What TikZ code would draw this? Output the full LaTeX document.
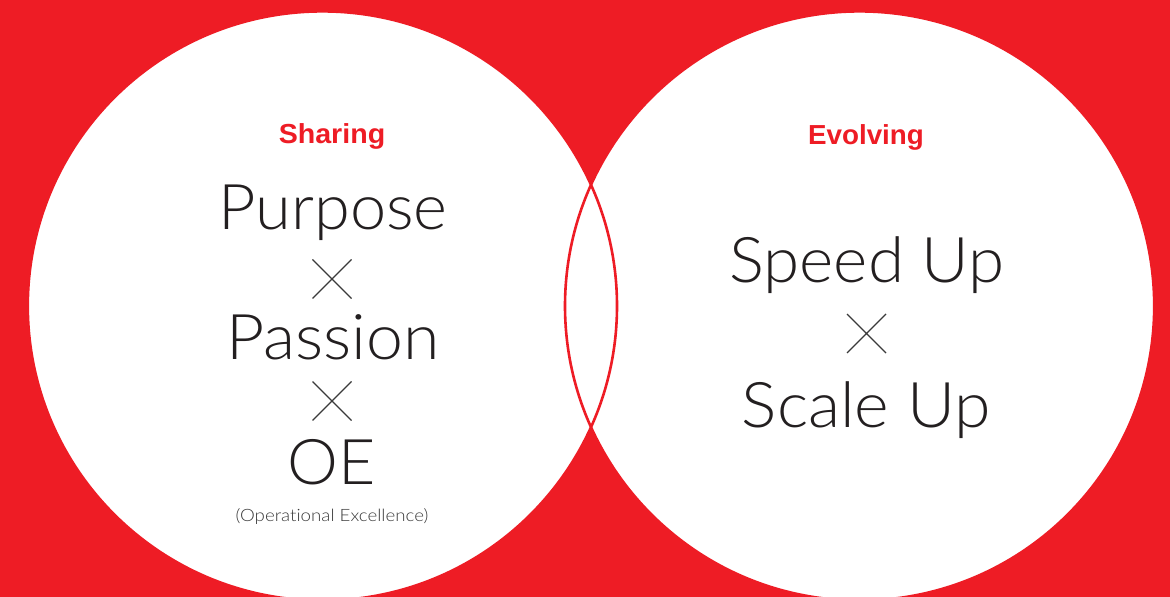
\documentclass[tikz,border=0pt]{standalone}
\usepackage{fontspec}
\usetikzlibrary{calc}
\setmainfont{Liberation Sans}
\newfontfamily\lightfont[Ligatures=NoCommon]{Lato Light}
\newfontfamily\boldfont{Liberation Sans Bold}
\definecolor{bgred}{HTML}{EE1C25}
\definecolor{ink}{HTML}{231F20}
\definecolor{softink}{HTML}{3A3A3A}
\newcommand{\widen}[2]{\scalebox{#1}[1]{#2}}
\begin{document}
\begin{tikzpicture}[x=1pt,y=1pt,
  big/.style={anchor=base,inner sep=0pt,text=ink,font=\lightfont\fontsize{63}{63}\selectfont},
  head/.style={anchor=base,inner sep=0pt,text=bgred,font=\boldfont\fontsize{27.5}{27.5}\selectfont},
  small/.style={anchor=base,inner sep=0pt,text=softink,font=\lightfont\fontsize{17}{17}\selectfont},
  times/.style={draw=softink,line width=1.1pt},
  lens/.style={draw=bgred,line width=2.6pt}]
\useasboundingbox (0,0) rectangle (1170,597);
\fill[bgred] (0,0) rectangle (1170,597);
% circles
\fill[white] (322.4,291) circle[radius=294.6];
\fill[white] (859.6,291) circle[radius=294.6];
\begin{scope}
  \clip (0,0) rectangle (1170,597);
  \draw[lens] (322.4,291) circle[radius=294.6];
  \draw[lens] (859.6,291) circle[radius=294.6];
\end{scope}
% left texts
\node[head] (sharing) at (332,453) {\widen{1.04}{Sharing}};
\node[big] (purpose) at (333,367) {\widen{1.03}{Purpose}};
\coordinate (x1) at (332,318);
\draw[times] ($(x1)+(-19.5,-19.5)$) -- ($(x1)+(19.5,19.5)$) ($(x1)+(-19.5,19.5)$) -- ($(x1)+(19.5,-19.5)$);
\node[big] (passion) at (333,237) {\widen{1.05}{Passion}};
\coordinate (x2) at (332,196);
\draw[times] ($(x2)+(-19.5,-19.5)$) -- ($(x2)+(19.5,19.5)$) ($(x2)+(-19.5,19.5)$) -- ($(x2)+(19.5,-19.5)$);
\node[big] (oe) at (332,112) {\widen{1.02}{OE}};
\node[small] (opex) at (332,75) {\widen{1.1}{(Operational Excellence)}};
% right texts
\node[head] (evolving) at (866,452) {\widen{1.01}{Evolving}};
\node[big] (speed) at (867,314) {\widen{1.04}{Speed Up}};
\coordinate (x3) at (866.5,263.5);
\draw[times] ($(x3)+(-19.5,-19.5)$) -- ($(x3)+(19.5,19.5)$) ($(x3)+(-19.5,19.5)$) -- ($(x3)+(19.5,-19.5)$);
\node[big] (scale) at (866.5,169) {\widen{1.05}{Scale Up}};
\end{tikzpicture}
\end{document}
